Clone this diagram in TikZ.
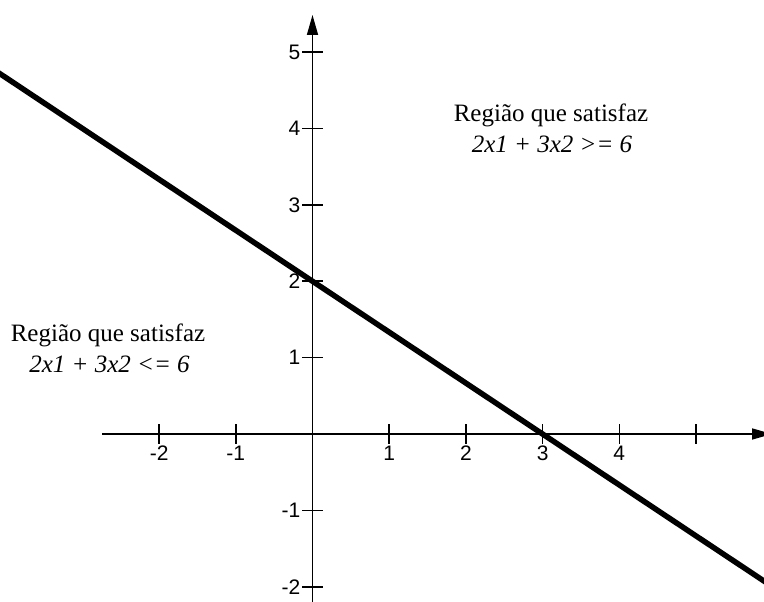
\documentclass[tikz,border=0pt]{standalone}
\usepackage{fontspec}
\setmainfont{Liberation Serif}
\setsansfont{Liberation Sans}
\usetikzlibrary{arrows.meta}
\begin{document}
\begin{tikzpicture}[scale=1.000000,x=1pt,y=1pt,
  eixo/.style={line width=1.6pt,-{Triangle[length=20pt,width=11pt]}},
  marca/.style={line width=1.6pt},
  rotulo/.style={font=\fontsize{21pt}{23pt}\selectfont\sffamily,inner sep=0pt},
  regiao/.style={font=\fontsize{25pt}{30pt}\selectfont,inner sep=0pt,anchor=base}]
\useasboundingbox (0.000000,0.000000) rectangle (764.000000,602.000000);
% Drawing axes
\draw[eixo] (102.000000,168.000000) -- (772.000000,168.000000);
\draw[eixo] (312.500000,0.000000) -- (312.500000,587.000000);
% Done with axes; drawing x ticks
\draw[marca] (159.100000,158.000000) -- (159.100000,178.000000);
\node[rotulo,anchor=north] (xm2) at (159.100000,156.500000) {-2};
\draw[marca] (235.800000,158.000000) -- (235.800000,178.000000);
\node[rotulo,anchor=north] (xm1) at (235.800000,156.500000) {-1};
\draw[marca] (389.200000,158.000000) -- (389.200000,178.000000);
\node[rotulo,anchor=north] (xp1) at (389.200000,156.500000) {1};
\draw[marca] (465.900000,158.000000) -- (465.900000,178.000000);
\node[rotulo,anchor=north] (xp2) at (465.900000,156.500000) {2};
\draw[marca] (542.600000,158.000000) -- (542.600000,178.000000);
\node[rotulo,anchor=north] (xp3) at (542.600000,156.500000) {3};
\draw[marca] (619.300000,158.000000) -- (619.300000,178.000000);
\node[rotulo,anchor=north] (xp4) at (619.300000,156.500000) {4};
\draw[marca] (696.000000,158.000000) -- (696.000000,178.000000);
% Done with x ticks; drawing y ticks
\draw[marca] (302.000000,550.000000) -- (323.000000,550.000000);
\node[rotulo,anchor=east] (yp5) at (300.500000,550.000000) {5};
\draw[marca] (302.000000,473.600000) -- (323.000000,473.600000);
\node[rotulo,anchor=east] (yp4) at (300.500000,473.600000) {4};
\draw[marca] (302.000000,397.200000) -- (323.000000,397.200000);
\node[rotulo,anchor=east] (yp3) at (300.500000,397.200000) {3};
\draw[marca] (302.000000,320.800000) -- (323.000000,320.800000);
\node[rotulo,anchor=east] (yp2) at (300.500000,320.800000) {2};
\draw[marca] (302.000000,244.400000) -- (323.000000,244.400000);
\node[rotulo,anchor=east] (yp1) at (300.500000,244.400000) {1};
\draw[marca] (302.000000,91.600000) -- (323.000000,91.600000);
\node[rotulo,anchor=east] (ym1) at (300.500000,91.600000) {-1};
\draw[marca] (302.000000,15.200000) -- (323.000000,15.200000);
\node[rotulo,anchor=east] (ym2) at (300.500000,15.200000) {-2};
% Done with y ticks; drawing restriction line 2x1 + 3x2 = 6
\draw[line width=5.500000pt] (-10.000000,534.900000) -- (774.000000,14.300000);
% Done with line; drawing region labels
\node[regiao] (regsup) at (551.000000,480.000000) {Região que satisfaz};
\node[regiao] (ineqsup) at (552.000000,449.000000) {\itshape 2x1 + 3x2 >= 6};
\node[regiao] (reginf) at (108.000000,260.000000) {Região que satisfaz};
\node[regiao] (ineqinf) at (109.500000,229.000000) {\itshape 2x1 + 3x2 <= 6};
% Done with labels
\end{tikzpicture}
\end{document}
